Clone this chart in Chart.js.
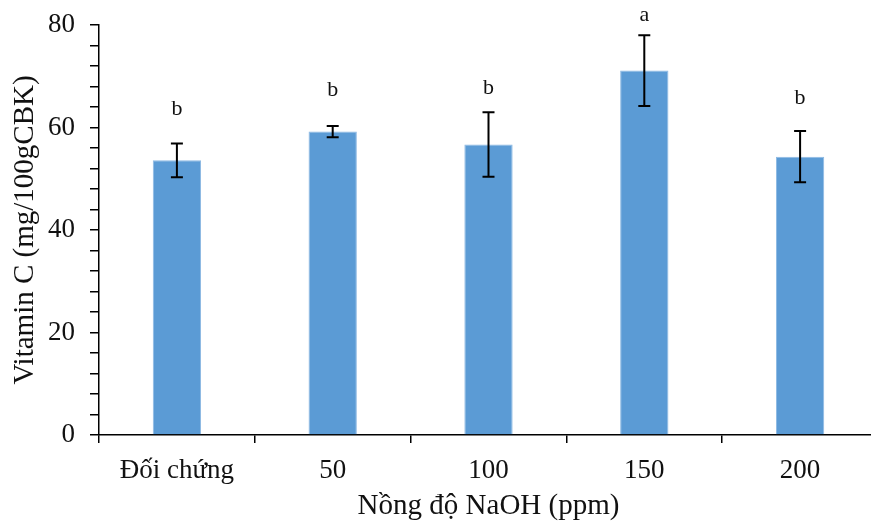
<!DOCTYPE html>
<html>
<head>
<meta charset="utf-8">
<script src="https://cdn.jsdelivr.net/npm/chart.js@4.4.1/dist/chart.umd.min.js"></script>
<style>
  html, body { margin: 0; padding: 0; background: #fff; overflow: hidden; }
  #wrap { position: relative; width: 880px; height: 524px; }
</style>
</head>
<body>
<div id="wrap"><canvas id="c"></canvas></div>
<script>
const categories = ['Đối chứng', '50', '100', '150', '200'];
const vitaminC = [53.6, 59.2, 56.7, 71.1, 54.3];
const errorSD = [3.3, 1.1, 6.3, 6.9, 5.0];
const letters = ['b', 'b', 'b', 'a', 'b'];
const letterBaseline = [62.4, 66.1, 66.5, 80.8, 64.6];
const yTickLabels = [0, 20, 40, 60, 80];

const SERIF = '"Liberation Serif", "Times New Roman", serif';

const errorBarPlugin = {
  id: 'errorBars',
  afterDatasetsDraw(chart) {
    const ctx = chart.ctx;
    const meta = chart.getDatasetMeta(0);
    const y = chart.scales.y;
    ctx.save();
    ctx.strokeStyle = '#000';
    ctx.lineWidth = 2;
    meta.data.forEach((bar, i) => {
      const x = bar.x;
      const top = y.getPixelForValue(vitaminC[i] + errorSD[i]);
      const bot = y.getPixelForValue(vitaminC[i] - errorSD[i]);
      ctx.beginPath();
      ctx.moveTo(x, top); ctx.lineTo(x, bot);
      ctx.moveTo(x - 6, top); ctx.lineTo(x + 6, top);
      ctx.moveTo(x - 6, bot); ctx.lineTo(x + 6, bot);
      ctx.stroke();
    });
    ctx.fillStyle = '#111';
    ctx.font = '22px ' + SERIF;
    ctx.textAlign = 'center';
    ctx.textBaseline = 'alphabetic';
    meta.data.forEach((bar, i) => {
      ctx.fillText(letters[i], bar.x, y.getPixelForValue(letterBaseline[i]));
    });
    ctx.restore();
  }
};

new Chart(document.getElementById('c'), {
  type: 'bar',
  data: {
    labels: categories,
    datasets: [{
      data: vitaminC,
      backgroundColor: '#5B9BD5',
      borderColor: '#8DB9E3',
      borderWidth: 1,
      categoryPercentage: 1,
      barPercentage: 0.31
    }]
  },
  options: {
    responsive: true,
    maintainAspectRatio: false,
    animation: false,
    layout: { padding: { top: 25, right: 2, bottom: 0, left: 0 } },
    plugins: { legend: { display: false }, tooltip: { enabled: false } },
    scales: {
      x: {
        afterFit(s) { s.height = 89; s.paddingLeft = 0; s.paddingRight = 0; },
        grid: { display: true, drawOnChartArea: false, offset: true, color: '#000', lineWidth: 1.5, tickLength: 8 },
        border: { display: true, color: '#000', width: 1.5 },
        ticks: { color: '#111', padding: 12, font: { family: SERIF, size: 27 }, maxRotation: 0 },
        title: { display: true, text: 'Nồng độ NaOH (ppm)', color: '#111', font: { family: SERIF, size: 29 }, padding: { top: 0, bottom: 0 } }
      },
      y: {
        min: 0, max: 80,
        afterFit(s) { s.width = 99; s.paddingTop = 0; s.paddingBottom = 0; },
        grid: { display: true, drawOnChartArea: false, color: '#000', lineWidth: 1.5, tickLength: 9 },
        border: { display: true, color: '#000', width: 1.5 },
        ticks: {
          stepSize: 4,
          autoSkip: false,
          color: '#111',
          padding: 15,
          font: { family: SERIF, size: 27 },
          callback: (v) => yTickLabels.includes(v) ? String(v) : ''
        },
        title: { display: true, text: 'Vitamin C (mg/100gCBK)', color: '#111', font: { family: SERIF, size: 29 }, padding: { top: 8, bottom: 0 } }
      }
    }
  },
  plugins: [errorBarPlugin]
});
</script>
</body>
</html>
